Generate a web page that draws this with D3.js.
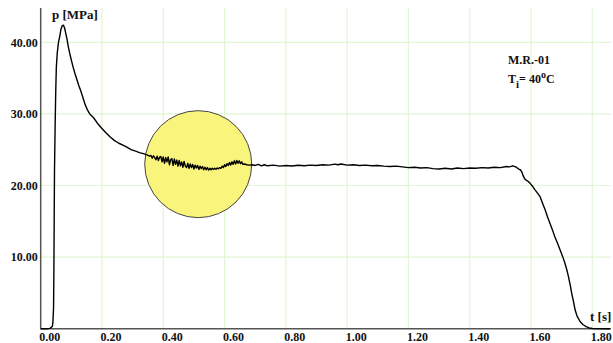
<!DOCTYPE html>
<html>
<head>
<meta charset="utf-8">
<script src="https://cdn.jsdelivr.net/npm/d3@7"></script>
<style>
  body { margin: 0; background: #fff; }
  text { font-family: "Liberation Serif", "Times New Roman", "DejaVu Serif", serif; font-weight: bold; fill: #111; }
</style>
</head>
<body>
<div id="chart"></div>
<script>
// time [s] and pressure [MPa]
var time = [0.000, 0.020, 0.030, 0.038, 0.040, 0.042, 0.043, 0.044, 0.045, 0.047, 0.049, 0.051, 0.054, 0.058,
  0.062, 0.066, 0.070, 0.074, 0.078, 0.082, 0.086, 0.090, 0.095, 0.100, 0.106, 0.112, 0.118, 0.124, 0.130,
  0.137, 0.145, 0.152, 0.160, 0.172, 0.185, 0.199, 0.212, 0.226, 0.240, 0.255, 0.270, 0.281, 0.295, 0.310,
  0.322, 0.335, 0.345, 0.355,
  0.360, 0.364, 0.368, 0.372, 0.376, 0.380, 0.384, 0.388, 0.392, 0.396, 0.400, 0.404, 0.408, 0.412, 0.416,
  0.420, 0.424, 0.428, 0.432, 0.436, 0.440, 0.444, 0.448, 0.452, 0.456, 0.460, 0.464, 0.468, 0.472, 0.476,
  0.480, 0.484, 0.488, 0.492, 0.496, 0.500, 0.504, 0.508, 0.512, 0.516, 0.520, 0.524, 0.528, 0.532, 0.536,
  0.540, 0.544, 0.548, 0.552, 0.556, 0.560, 0.564, 0.568, 0.572, 0.576, 0.580, 0.584, 0.588, 0.592, 0.596,
  0.600, 0.604, 0.608, 0.612, 0.616, 0.620, 0.624, 0.628, 0.632, 0.636, 0.640, 0.644, 0.648, 0.652, 0.656,
  0.660, 0.666, 0.672, 0.680, 0.690,
  0.70, 0.71, 0.72, 0.73, 0.74, 0.76, 0.78, 0.80, 0.82, 0.84, 0.86, 0.88, 0.90, 0.92, 0.94, 0.96, 0.97, 0.98, 1.00,
  1.02, 1.04, 1.06, 1.08, 1.10, 1.12, 1.14, 1.16, 1.18, 1.20, 1.22, 1.24, 1.26, 1.28, 1.30, 1.32, 1.34,
  1.36, 1.38, 1.40, 1.42, 1.44, 1.46, 1.48, 1.50, 1.52, 1.53, 1.54, 1.55, 1.56, 1.565, 1.57, 1.575, 1.58,
  1.585, 1.59, 1.597, 1.605, 1.613, 1.62, 1.63, 1.638, 1.646, 1.654, 1.662, 1.67, 1.678, 1.686, 1.695,
  1.703, 1.711, 1.717, 1.722, 1.728, 1.733, 1.739, 1.744, 1.750, 1.76, 1.77, 1.78, 1.79, 1.80, 1.83, 1.858];

var pressure = [0.00, 0.00, 0.05, 0.3, 1.0, 3.0, 8.0, 15.0, 22.0, 28.0, 33.0, 36.5, 38.5, 40.0,
  40.8, 41.8, 42.3, 42.4, 42.0, 41.2, 40.4, 39.4, 38.4, 37.5, 36.5, 35.6, 34.8, 34.0, 33.3,
  32.4, 31.3, 30.6, 30.0, 29.5, 28.7, 28.0, 27.4, 26.8, 26.3, 25.9, 25.6, 25.35, 25.0, 24.8,
  24.6, 24.45, 24.3, 24.1,
  24.2, 23.8, 24.15, 23.9, 23.6, 24.1, 23.5, 23.95, 24.05, 23.3, 24.0, 23.1, 23.9, 23.3, 24.0,
  22.9, 23.6, 23.75, 22.8, 23.7, 22.95, 23.55, 22.7, 23.5, 22.75, 23.3, 22.55, 23.35, 22.7, 22.5,
  23.1, 22.4, 23.0, 22.5, 22.95, 22.3, 22.85, 22.45, 22.8, 22.25, 22.7, 22.35, 22.65, 22.2, 22.55,
  22.2, 22.5, 22.15, 22.4, 22.2, 22.4, 22.25, 22.42, 22.28, 22.45, 22.32, 22.5, 22.4, 22.7, 22.5,
  22.9, 22.65, 23.05, 22.8, 23.2, 22.85, 23.3, 22.95, 23.45, 23.0, 23.5, 23.1, 23.45, 23.05, 23.3,
  22.95, 23.0, 22.9, 22.85, 22.9,
  22.8, 22.95, 22.75, 22.9, 22.75, 22.85, 22.7, 22.8, 22.72, 22.82, 22.75, 22.85, 22.8, 22.9, 22.85, 22.98, 22.9, 23.0, 22.85,
  22.9, 22.8, 22.85, 22.75, 22.8, 22.7, 22.65, 22.7, 22.6, 22.5, 22.55, 22.45, 22.5, 22.35, 22.3, 22.4, 22.3,
  22.45, 22.35, 22.45, 22.4, 22.5, 22.45, 22.55, 22.5, 22.65, 22.6, 22.75, 22.6, 22.3, 22.2, 21.9, 21.3, 20.9,
  20.7, 20.6, 20.3, 19.9, 19.4, 19.0, 18.4, 17.5, 16.6, 15.6, 14.7, 13.8, 12.8, 12.0, 11.0,
  10.1, 9.1, 8.2, 7.3, 6.1, 4.9, 3.7, 2.6, 1.8, 1.0, 0.55, 0.3, 0.1, 0.03, 0.0, 0.0];

var xTicks = [0, 0.2, 0.4, 0.6, 0.8, 1.0, 1.2, 1.4, 1.6, 1.8];
var yTicks = [10, 20, 30, 40];

var width = 613, height = 343;

var svg = d3.select("#chart").append("svg")
    .attr("width", width)
    .attr("height", height);

var x = d3.scaleLinear().domain([0, 1.8]).range([40.7, 592.3]);
var y = d3.scaleLinear().domain([0, 40]).range([328.7, 42.3]);

var plotTop = 8, plotRight = 611;
var serif = "'Liberation Serif', 'Times New Roman', 'DejaVu Serif', serif";

// grid
svg.append("g")
    .selectAll("line")
    .data(xTicks.slice(1))
    .enter().append("line")
    .attr("x1", function(d) { return x(d); })
    .attr("x2", function(d) { return x(d); })
    .attr("y1", plotTop)
    .attr("y2", y(0))
    .attr("stroke", "#e2f6d4")
    .attr("stroke-width", 1.2);

svg.append("g")
    .selectAll("line")
    .data(yTicks)
    .enter().append("line")
    .attr("x1", x(0))
    .attr("x2", plotRight)
    .attr("y1", function(d) { return y(d); })
    .attr("y2", function(d) { return y(d); })
    .attr("stroke", "#e2f6d4")
    .attr("stroke-width", 1.2);

// highlight circle
svg.append("circle")
    .attr("cx", x(0.514))
    .attr("cy", y(22.98))
    .attr("r", 53.5)
    .attr("fill", "#f9f47c")
    .attr("stroke", "#444")
    .attr("stroke-width", 1);

// axes
var xAxis = svg.append("g")
    .attr("transform", "translate(0," + y(0) + ")")
    .call(d3.axisBottom(x).tickValues(xTicks).tickSize(0).tickPadding(0)
      .tickFormat(d3.format(".2f")));
xAxis.attr("font-family", null);
xAxis.select(".domain").remove();
xAxis.selectAll("text")
    .attr("text-anchor", "start")
    .attr("x", -2)
    .attr("y", 12)
    .attr("dy", 0)
    .style("font-size", "12px")
    .style("font-family", serif)
    .style("font-weight", "bold")
    .attr("fill", "#111");

var yAxis = svg.append("g")
    .attr("transform", "translate(" + x(0) + ",0)")
    .call(d3.axisLeft(y).tickValues(yTicks).tickSize(0).tickPadding(3)
      .tickFormat(d3.format(".2f")));
yAxis.attr("font-family", null);
yAxis.select(".domain").remove();
yAxis.selectAll("text")
    .attr("dy", "0.32em")
    .style("font-size", "12px")
    .style("font-family", serif)
    .style("font-weight", "bold")
    .attr("fill", "#111");

svg.append("line")
    .attr("x1", x(0)).attr("x2", x(0))
    .attr("y1", plotTop).attr("y2", y(0) + 0.5)
    .attr("stroke", "#555").attr("stroke-width", 1.5);
svg.append("line")
    .attr("x1", x(0)).attr("x2", plotRight)
    .attr("y1", y(0)).attr("y2", y(0))
    .attr("stroke", "#555").attr("stroke-width", 1.5);

// trace
var line = d3.line()
    .x(function(d, i) { return x(time[i]); })
    .y(function(d) { return y(d); });

svg.append("path")
    .datum(pressure)
    .attr("d", line)
    .attr("fill", "none")
    .attr("stroke", "#000")
    .attr("stroke-width", 1.4)
    .attr("stroke-linejoin", "round");

// labels
svg.append("text").attr("x", 52).attr("y", 19).style("font-size", "13px").text("p [MPa]");
svg.append("text").attr("x", 590).attr("y", 321).style("font-size", "13px").text("t [s]");

svg.append("text").attr("x", 508).attr("y", 64).style("font-size", "12px").text("M.R.-01");
var ti = svg.append("text").attr("x", 508).attr("y", 83).style("font-size", "12px");
ti.append("tspan").text("T");
ti.append("tspan").attr("dy", 5).style("font-size", "11px").text("i");
ti.append("tspan").attr("dy", -5).text("= 40");
ti.append("tspan").attr("dy", -5).style("font-size", "10px").text("o");
ti.append("tspan").attr("dy", 5).text("C");
</script>
</body>
</html>
